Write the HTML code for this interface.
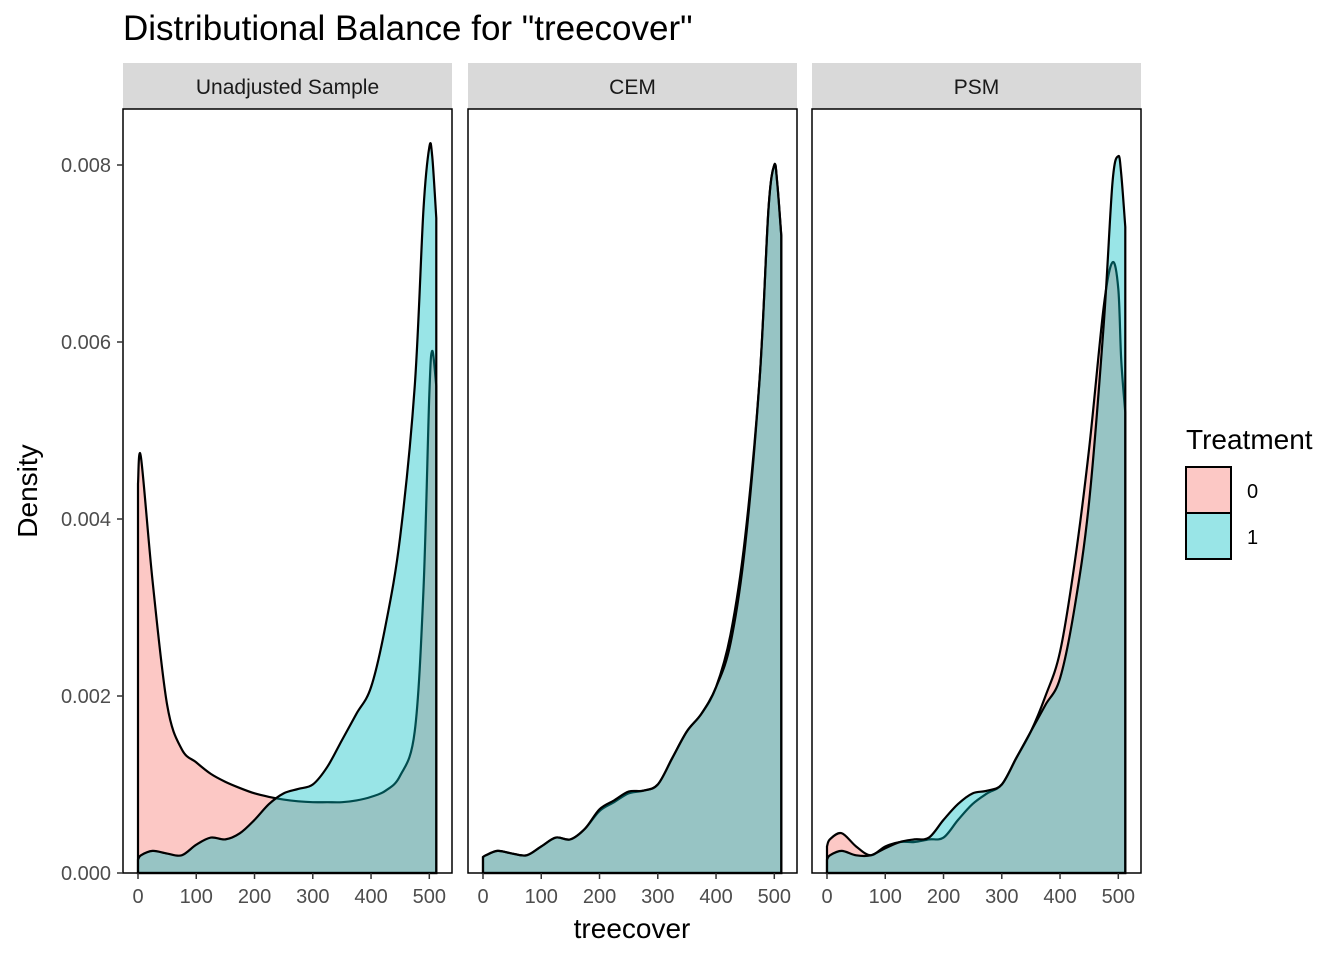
<!DOCTYPE html>
<html><head><meta charset="utf-8"><style>
body{margin:0;background:#fff;font-family:"Liberation Sans",sans-serif}
</style></head><body>
<svg id="c" width="1344" height="960" xmlns="http://www.w3.org/2000/svg">
<text x="123" y="40" font-size="35" fill="#000">Distributional Balance for "treecover"</text>
<text x="632" y="938" font-size="28" text-anchor="middle">treecover</text>
<text transform="translate(37,491) rotate(-90)" font-size="28" text-anchor="middle">Density</text>
<g id="panels"></g>
<g>
<text x="1186" y="449" font-size="28">Treatment</text>
<rect x="1186" y="467" width="45" height="46" fill="#F8766D" fill-opacity="0.4" stroke="#000" stroke-width="2"/>
<rect x="1186" y="513" width="45" height="46" fill="#00BFC4" fill-opacity="0.4" stroke="#000" stroke-width="2"/>
<text x="1247" y="498" font-size="20">0</text>
<text x="1247" y="544" font-size="20">1</text>
</g>
</svg>
<script>
const panelNames = ["Unadjusted Sample","CEM","PSM"];
const xTicks = [0,100,200,300,400,500];
const yTicks = [0,0.002,0.004,0.006,0.008];
const yTickLabels = ["0.000","0.002","0.004","0.006","0.008"];
const xs = [0,5,25,50,75,100,125,150,175,200,225,250,275,300,325,350,375,400,425,450,475,490,500,505,512];
const unadj0 = [0.0044,0.0047,0.0033,0.0019,0.0014,0.00125,0.00112,0.00103,0.00096,0.0009,0.00086,0.00083,0.00081,0.0008,0.0008,0.0008,0.00082,0.00086,0.00093,0.0011,0.0016,0.0032,0.0054,0.0059,0.0055];
const unadj1 = [0.00015,0.0002,0.00025,0.00022,0.0002,0.00032,0.0004,0.00038,0.00045,0.0006,0.00078,0.0009,0.00095,0.001,0.0012,0.0015,0.0018,0.0021,0.0028,0.0038,0.0055,0.0075,0.0082,0.0081,0.0074];
const cem0 = [0.00018,0.0002,0.00025,0.00022,0.0002,0.0003,0.0004,0.00038,0.0005,0.0007,0.0008,0.0009,0.00093,0.001,0.0013,0.0016,0.0018,0.0021,0.0027,0.0038,0.0056,0.0075,0.008,0.0078,0.0072];
const cem1 = [0.00018,0.0002,0.00025,0.00022,0.0002,0.0003,0.0004,0.00038,0.0005,0.00072,0.00082,0.00092,0.00093,0.001,0.0013,0.0016,0.0018,0.0021,0.0026,0.0037,0.0056,0.0075,0.008,0.0078,0.0072];
const psm0 = [0.0003,0.00038,0.00045,0.0003,0.0002,0.0003,0.00035,0.00035,0.00038,0.0004,0.0006,0.00078,0.0009,0.001,0.0013,0.0016,0.002,0.0025,0.0035,0.0048,0.0064,0.0069,0.0066,0.0058,0.0052];
const psm1 = [0.00015,0.0002,0.00025,0.0002,0.0002,0.00028,0.00035,0.00038,0.0004,0.0006,0.00078,0.0009,0.00093,0.001,0.0013,0.0016,0.0019,0.0022,0.003,0.0042,0.0062,0.0078,0.0081,0.0079,0.0073];
const series = [[unadj0,unadj1],[cem0,cem1],[psm0,psm1]];
const NS="http://www.w3.org/2000/svg";
const g=document.getElementById('panels');
function el(t,a,p){const e=document.createElementNS(NS,t);for(const k in a)e.setAttribute(k,a[k]);(p||g).appendChild(e);return e;}
const pl=[123,468,812], pw=329, panelTop=109, panelBot=873;
const yS=v=>873-v/0.002*177;
panelNames.forEach((nm,i)=>{
  const L=pl[i]; const xS=v=>L+15+v*0.5826;
  const s=el('rect',{x:L,y:63,width:pw,height:46,fill:'#D9D9D9'});
  
  
  const t=el('text',{x:L+pw/2,y:94,'font-size':21,'text-anchor':'middle',fill:'#1a1a1a'});t.textContent=nm;
  
  
  series[i].forEach((d,j)=>{
    const pts=xs.map((x,k)=>[xS(x),yS(d[k])]);
    let p='M'+pts[0][0]+','+pts[0][1];
    for(let k=0;k<pts.length-1;k++){const p0=pts[Math.max(0,k-1)],p1=pts[k],p2=pts[k+1],p3=pts[Math.min(pts.length-1,k+2)];
      p+=` C${p1[0]+(p2[0]-p0[0])/6},${p1[1]+(p2[1]-p0[1])/6} ${p2[0]-(p3[0]-p1[0])/6},${p2[1]-(p3[1]-p1[1])/6} ${p2[0]},${p2[1]}`;}
    const x0=xS(xs[0]),x1=xS(xs[xs.length-1]);
    const a=el('path',{d:'M'+x0+','+panelBot+' L'+p.slice(1)+' L'+x1+','+panelBot+' Z',fill:j?'#00BFC4':'#F8766D','fill-opacity':0.4,stroke:'#000','stroke-width':2.2});
    
    
  });
  const b=el('rect',{x:L,y:panelTop,width:pw,height:panelBot-panelTop,fill:'none',stroke:'#000','stroke-width':1.5});
  
  
  xTicks.forEach(v=>{el('line',{x1:xS(v),x2:xS(v),y1:panelBot,y2:panelBot+6,stroke:'#333','stroke-width':1.5});
    const tx=el('text',{x:xS(v),y:903,'font-size':20,'text-anchor':'middle',fill:'#4d4d4d'});tx.textContent=v;
    
    });
});
yTicks.forEach((v,k)=>{el('line',{x1:117,x2:123,y1:yS(v),y2:yS(v),stroke:'#333','stroke-width':1.5});
  const t=el('text',{x:111,y:yS(v)+7,'font-size':20,'text-anchor':'end',fill:'#4d4d4d'});t.textContent=yTickLabels[k];
  
  });
</script>
</body></html>
